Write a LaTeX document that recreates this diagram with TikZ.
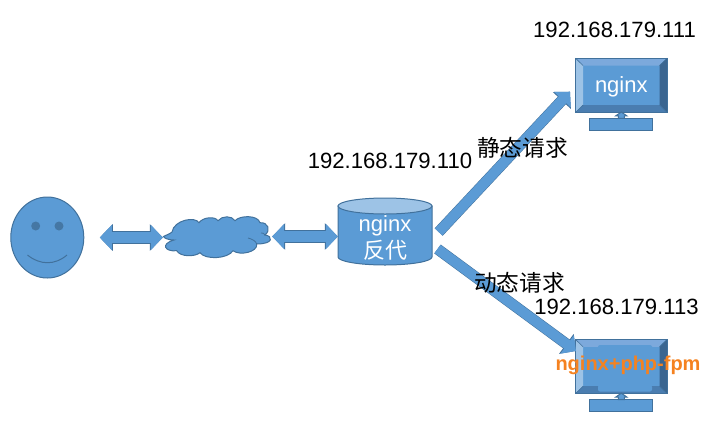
\documentclass[tikz,border=0pt]{standalone}
\usepackage{fontspec}
\setmainfont{Liberation Sans}
\newfontfamily\cjk{Noto Sans CJK SC}
\usetikzlibrary{arrows.meta,calc,shapes.geometric}
\definecolor{shapefill}{HTML}{5B9BD5}
\definecolor{shapeline}{HTML}{41719C}
\definecolor{bevellight}{HTML}{9DC3E6}
\definecolor{beveltop}{HTML}{7CA9DC}
\definecolor{bevelbottom}{HTML}{4A7DB0}
\definecolor{beveldark}{HTML}{3A6590}
\definecolor{phporange}{HTML}{F58220}
\tikzset{
  shapebox/.style={draw=shapeline,fill=shapefill,line width=1pt},
  iplabel/.style={font=\fontsize{22.1}{26}\selectfont,text=black,inner sep=0pt},
  reqlabel/.style={font=\fontsize{22.7}{27}\selectfont\cjk,text=black,inner sep=0pt},
  screentext/.style={font=\fontsize{22}{27}\selectfont,text=white,inner sep=0pt,align=center},
  blockline/.style={line width=10pt,draw=shapefill,
    preaction={draw=shapeline,line width=11pt,-{Triangle[length=12pt,width=24pt,color=shapeline]}},
    -{Triangle[length=11pt,width=22pt,color=shapefill]}},
  blockboth/.style={line width=11.4pt,draw=shapefill,
    preaction={draw=shapeline,line width=12.4pt,{Triangle[length=13pt,width=26pt,color=shapeline]}-{Triangle[length=13pt,width=26pt,color=shapeline]}},
    {Triangle[length=12pt,width=24.5pt,color=shapefill]}-{Triangle[length=12pt,width=24.5pt,color=shapefill]}},
  pics/monitor/.style={code={
    \node[shapebox,minimum width=90.7pt,minimum height=53.3pt,inner sep=0pt] (-body) at (0,0) {};
    \node[minimum width=76pt,minimum height=39pt,inner sep=0pt] (-screen) at (0,0) {};
    \fill[beveltop] (-body.north west) -- (-body.north east) -- (-screen.north east) -- (-screen.north west) -- cycle;
    \fill[bevellight] (-body.north west) -- (-screen.north west) -- (-screen.south west) -- (-body.south west) -- cycle;
    \fill[beveldark] (-body.north east) -- (-screen.north east) -- (-screen.south east) -- (-body.south east) -- cycle;
    \fill[bevelbottom] (-body.south west) -- (-screen.south west) -- (-screen.south east) -- (-body.south east) -- cycle;
    \draw[shapeline,line width=1pt] (-body.north west) rectangle (-body.south east);
    \draw[shapeline,line width=.6pt] (-body.north west) -- (-screen.north west) (-body.north east) -- (-screen.north east) (-body.south west) -- (-screen.south west) (-body.south east) -- (-screen.south east);
    \node[shapebox,minimum width=63pt,minimum height=12.5pt,inner sep=0pt] (-stand) at (0,39) {};
    \draw[shapebox] (-3,33) -- (-3,30.5) -- (-5.5,30.5) -- (0,26.7) -- (5.5,30.5) -- (3,30.5) -- (3,33) -- cycle;
  }}
}
\begin{document}
\begin{tikzpicture}[x=1pt,y=-1pt]
  \useasboundingbox (0,0) rectangle (706,424);
  \node[ellipse,shapebox,minimum width=73pt,minimum height=81pt,inner sep=0pt] (face) at (47.3,237.5) {};
  \fill[shapeline!85!shapefill] (35.7,226) circle (4.5) (59,226) circle (4.5);
  \draw[shapeline,line width=1pt] (27.5,255) .. controls (40,265.3) and (55,265.3) .. (67,255);

  \node[minimum width=109pt,minimum height=40pt,inner sep=0pt] (cloud) at (217.5,236.5) {};
  \draw[shapebox] (172,232) .. controls (174,220) and (195,216) .. (199,222.7)
    .. controls (203,217) and (215,216) .. (218,220.7)
    .. controls (222,215.5) and (232,215.5) .. (235,220.7)
    .. controls (240,215) and (258,215) .. (260,222.7)
    .. controls (268,222) and (271,230) .. (265,235)
    .. controls (273,236) and (274,244) .. (256.7,244)
    .. controls (258,252) and (240,256) .. (233,250.7)
    .. controls (228,259) and (205,260) .. (200,252.7)
    .. controls (195,257) and (180,257) .. (176.7,250.7)
    .. controls (165,252) and (160,244) .. (174,240)
    .. controls (168,240) and (164,238) .. (163.5,236.5)
    .. controls (166,235) and (170,234) .. (172,232) -- cycle;
  \draw[shapeline,line width=.8pt] (248,238) .. controls (252,239) and (256,241) .. (256.7,244);
  \draw[shapeline,line width=.8pt] (265,235) .. controls (264,233) and (263,233) .. (261,233);

  \node[minimum width=94pt,minimum height=67pt,inner sep=0pt] (cache) at (385,231.5) {};
  \draw[shapebox] (338,206) -- (338,257) arc[start angle=180,end angle=0,x radius=47,y radius=8] -- (432,206) -- cycle;
  \draw[shapeline,fill=bevellight,line width=1pt] (385,206) ellipse[x radius=47,y radius=8];
  \node[screentext] (cachetext) at (385,237.5) {nginx\\{\cjk 反代}};

  \pic (mona) at (621.3,85.3) {monitor};
  \pic (monb) at (621.3,366.5) {monitor};
  \fill[shapefill,rounded corners=2pt] (598,345) rectangle (652,348) (598,385) rectangle (652,391.5);
  \node[screentext,yshift=-2pt] (monatext) at (mona-screen) {nginx};
  \node[font=\fontsize{20}{24}\selectfont\bfseries,text=phporange,inner sep=0pt] (monbtext) at (628,365) {nginx+php-fpm};

  \coordinate (statictail) at (438.7,232);
  \coordinate (statictip) at (570,91.7);
  \coordinate (dynamictail) at (437.5,249);
  \coordinate (dynamictip) at (576,351);
  \draw[blockline] (statictail) -- (statictip);
  \draw[blockline] (dynamictail) -- (dynamictip);
  \draw[blockboth,shorten <=15.5pt] (face.east) -- (cloud.west |- face.east);
  \draw[blockboth] (cloud.east) -- (cloud.east -| cache.west);

  \node[iplabel] (ipa) at (614.5,30) {192.168.179.111};
  \node[iplabel] (ipc) at (390,161) {192.168.179.110};
  \node[iplabel] (ipb) at (616.5,307) {192.168.179.113};
  \node[reqlabel] (reqa) at (522.5,148) {静态请求};
  \node[reqlabel] (reqb) at (519.5,283) {动态请求};
\end{tikzpicture}
\end{document}
